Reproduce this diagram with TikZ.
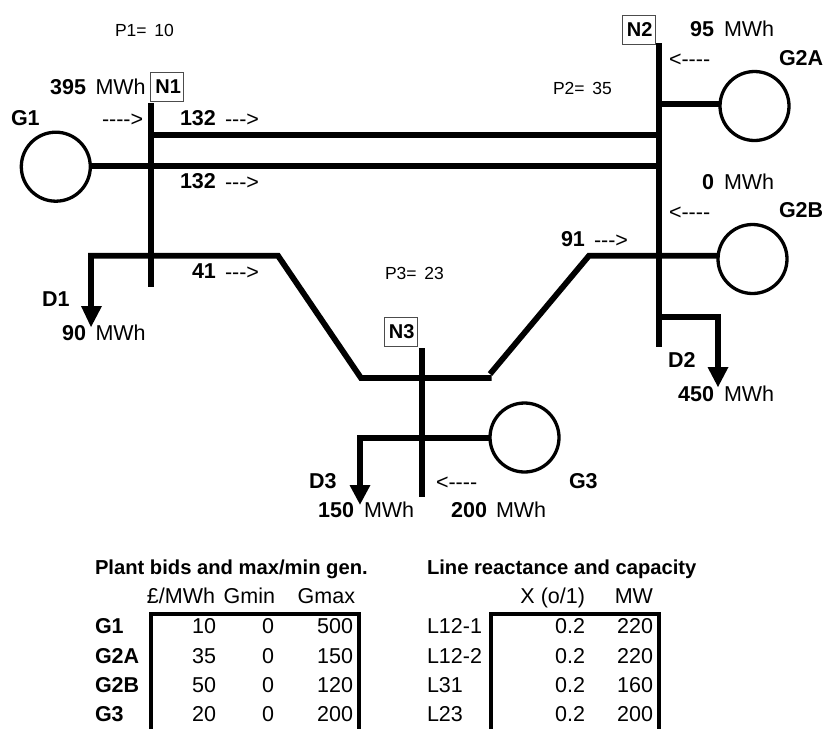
\documentclass[tikz,border=0pt]{standalone}
\usepackage{fontspec}
\setmainfont{Liberation Sans}
\begin{document}
\begin{tikzpicture}[x=1pt,y=-1pt,
  every node/.style={inner sep=0pt,outer sep=0pt},
  wire/.style={line width=5.8pt,line cap=butt,line join=miter,black},
  ring/.style={circle,draw=black,line width=3.3pt,minimum size=69pt,fill=none},
  bx/.style={draw=black!70,line width=0.8pt,font=\fontsize{20}{22}\selectfont\bfseries,inner sep=0pt,minimum width=33pt,minimum height=29pt},
  lab/.style={font=\fontsize{21.5}{24}\selectfont,anchor=base west},
  bold/.style={font=\fontsize{21.5}{24}\selectfont\bfseries,anchor=base west},
  boldr/.style={font=\fontsize{21.5}{24}\selectfont\bfseries,anchor=base east},
  small/.style={font=\fontsize{17.5}{20}\selectfont,anchor=base west},
  head/.style={font=\fontsize{21.5}{24}\selectfont,anchor=base east},
  headl/.style={font=\fontsize{21.5}{24}\selectfont,anchor=base west},
  headb/.style={font=\fontsize{21.5}{24}\selectfont\bfseries,anchor=base west},
  titleb/.style={font=\fontsize{20.2}{24}\selectfont\bfseries,anchor=base west},
  tbl/.style={line width=4pt,black,line join=miter},
  tip/.style={fill=black,draw=none}]
\useasboundingbox (0,0) rectangle (827,729);
% nodes
\node[ring] (G1) at (55.8,166.7) {};
\node[ring] (G2A) at (754.5,106) {};
\node[ring] (G2B) at (752.5,259) {};
\node[ring] (G3) at (524.5,437.5) {};
\coordinate (n1t) at (151,103); \coordinate (n1b) at (151,287);
\coordinate (n2t) at (659,43);  \coordinate (n2b) at (659,347);
\coordinate (n3t) at (422,348); \coordinate (n3b) at (422,497);
\coordinate (d1) at (91,255.7); \coordinate (a1) at (278,255.7); \coordinate (a2) at (361,378);
\coordinate (a3) at (491.5,378); \coordinate (a4) at (490,374); \coordinate (a5) at (589,255.7);
\coordinate (d1a) at (91,308); \coordinate (d1t) at (91,327);
\coordinate (d2s) at (659,316.7); \coordinate (d2c) at (718,316.7); \coordinate (d2a) at (718,369); \coordinate (d2t) at (718,387);
\coordinate (d3) at (360,437.7); \coordinate (d3a) at (360,487); \coordinate (d3t) at (360,504.5);
\coordinate (l1a) at (151,135); \coordinate (l1b) at (659,135);
\coordinate (l2b) at (659,165.7);
\coordinate (g2aj) at (659,104);
% wires
\draw[wire] (n1t) -- (n1b);
\draw[wire] (n2t) -- (n2b);
\draw[wire] (n3t) -- (n3b);
\draw[wire] (l1a) -- (l1b);
\draw[wire] (l2b) -- (l2b -| G1.east);
\draw[wire] (g2aj) -- (g2aj -| G2A.west);
\draw[wire] (a4) -- (a5) -- (a5 -| G2B.west);
\draw[wire] (d1a) -- (d1) -- (a1) -- (a2) -- (a3);
\draw[wire] (d2s) -- (d2c) -- (d2a);
\draw[wire] (d3 -| G3.west) -- (d3) -- (d3a);
\fill[tip] (81,306) -- (102,306) -- (d1t) -- cycle;
\fill[tip] (707.5,367) -- (728.5,367) -- (d2t) -- cycle;
\fill[tip] (349.5,485) -- (370.5,485) -- (d3t) -- cycle;
% boxed labels
\node[bx] (N1) at (167,86.5) {\makebox[28pt][r]{N1}};
\node[bx] (N2) at (638.5,29.5) {\makebox[28pt][r]{N2}};
\node[bx] (N3) at (400.5,331.5) {\makebox[28pt][r]{N3}};
% text
\node[small] (p1) at (115,36) {P1= \,10};
\node[small] (p2) at (553,94) {P2= \,35};
\node[small] (p3) at (385,279) {P3= \,23};
\node[boldr] (t395) at (86,94) {395};
\node[lab] (t395m) at (95.5,94) {MWh};
\node[bold] (tg1) at (11,125) {G1};
\node[lab] (ar1) at (102,126) {{-}{-}{-}{-}>};
\node[bold] (f1) at (180,125) {132};
\node[lab] (f1a) at (225,126) {{-}{-}{-}>};
\node[bold] (f2) at (180,188.5) {132};
\node[lab] (f2a) at (225,189) {{-}{-}{-}>};
\node[bold] (f3) at (192,278) {41};
\node[lab] (f3a) at (225,279) {{-}{-}{-}>};
\node[bold] (td1) at (42,306.7) {D1};
\node[boldr] (t90) at (86,340) {90};
\node[lab] (t90m) at (95.5,340) {MWh};
\node[boldr] (t95) at (714,36) {95};
\node[lab] (t95m) at (724,36) {MWh};
\node[lab] (ar2) at (669,66) {<{-}{-}{-}{-}};
\node[bold] (tg2a) at (779,65) {G2A};
\node[boldr] (t0) at (714,189) {0};
\node[lab] (t0m) at (724,189) {MWh};
\node[lab] (ar3) at (669,219) {<{-}{-}{-}{-}};
\node[bold] (tg2b) at (779,217) {G2B};
\node[bold] (f4) at (561,246) {91};
\node[lab] (f4a) at (594,247) {{-}{-}{-}>};
\node[bold] (td2) at (668,367) {D2};
\node[boldr] (t450) at (714,401) {450};
\node[lab] (t450m) at (724,401) {MWh};
\node[bold] (td3) at (309,488) {D3};
\node[boldr] (t150) at (354,517) {150};
\node[lab] (t150m) at (364,517) {MWh};
\node[lab] (ar4) at (436,489) {<{-}{-}{-}{-}};
\node[bold] (tg3) at (569,488) {G3};
\node[boldr] (t200) at (487,517) {200};
\node[lab] (t200m) at (496,517) {MWh};
% table 1
\node[titleb] (h1) at (95,574) {Plant bids and max/min gen.};
\node[head] (c1) at (215,603) {£/MWh};
\node[head] (c2) at (275,603) {Gmin};
\node[head] (c3) at (355,603) {Gmax};
\draw[tbl] (150.7,729) -- (150.7,613.5) -- (359,613.5) -- (359,729);
\foreach \n/\r/\a/\b/\c in {G1/633.7/10/0/500,G2A/663/35/0/150,G2B/692.3/50/0/120,G3/721.3/20/0/200}{
  \node[headb] (lb\n) at (95,\r) {\n};
  \node[head] (a\n) at (216,\r) {\a};
  \node[head] (b\n) at (274,\r) {\b};
  \node[head] (e\n) at (353,\r) {\c};
}
% table 2
\node[titleb] (h2) at (427,574) {Line reactance and capacity};
\node[head] (x1) at (585,603) {X (o/1)};
\node[head] (x2) at (653,603) {MW};
\draw[tbl] (491,729) -- (491,613.5) -- (659,613.5) -- (659,729);
\foreach \n/\r/\a/\c/\i in {L12-1/633.7/0.2/220/1,L12-2/663/0.2/220/2,L31/692.3/0.2/160/3,L23/721.3/0.2/200/4}{
  \node[headl] (ll\i) at (427,\r) {\n};
  \node[head] (lx\i) at (585,\r) {\a};
  \node[head] (lc\i) at (653,\r) {\c};
}
\end{tikzpicture}
\end{document}
